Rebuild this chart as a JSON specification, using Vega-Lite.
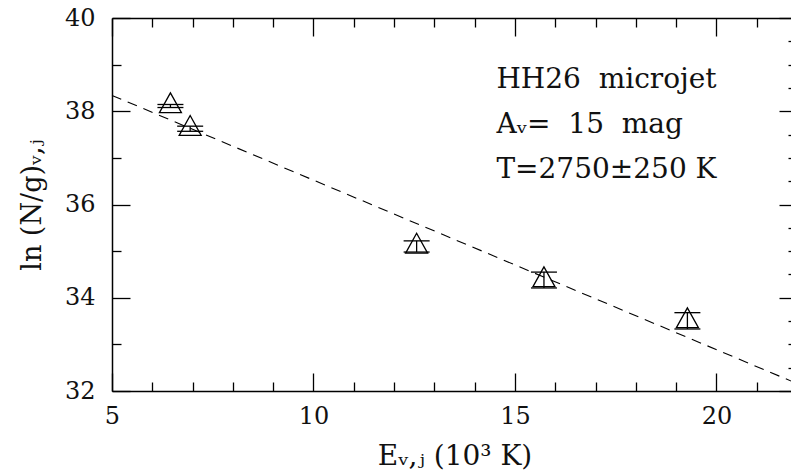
{
  "$schema": "https://vega.github.io/schema/vega-lite/v6.json",
  "width": 685,
  "height": 373,
  "autosize": {"type": "none"},
  "padding": {"left": 112, "top": 18, "right": 0, "bottom": 82},
  "background": "white",
  "config": {
    "view": {"stroke": null},
    "font": "DejaVu Serif",
    "axis": {
      "grid": false,
      "domainColor": "black",
      "domainWidth": 1.5,
      "tickColor": "black",
      "tickWidth": 1.3,
      "tickSize": -18,
      "labelColor": "#111",
      "labelFont": "DejaVu Serif",
      "labelFontSize": 24,
      "labelOverlap": false,
      "labelFlush": false,
      "labelBound": false,
      "titleColor": "#111",
      "titleFont": "DejaVu Serif",
      "titleFontSize": 28,
      "titleFontWeight": "normal"
    }
  },
  "datasets": {
    "points": [
      {"E": 6.45, "lnNg": 38.11, "lo": 38.08, "hi": 38.145},
      {"E": 6.94, "lnNg": 37.625, "lo": 37.57, "hi": 37.68},
      {"E": 12.56, "lnNg": 35.10, "lo": 34.98, "hi": 35.22},
      {"E": 15.72, "lnNg": 34.38, "lo": 34.21, "hi": 34.55},
      {"E": 19.28, "lnNg": 33.50, "lo": 33.33, "hi": 33.68}
    ],
    "fit": [
      {"E": 5, "lnNg": 38.34},
      {"E": 22, "lnNg": 32.16}
    ],
    "notes": [
      {"E": 14.54, "lnNg": 38.50, "label": "HH26\u00a0\u00a0microjet"},
      {"E": 14.54, "lnNg": 37.54, "label": "Aᵥ=\u00a0\u00a015\u00a0\u00a0mag"},
      {"E": 14.54, "lnNg": 36.57, "label": "T=2750±250 K"}
    ]
  },
  "resolve": {"axis": {"x": "independent", "y": "independent"}},
  "layer": [
    {
      "data": {"name": "fit"},
      "mark": {"type": "line", "color": "black", "strokeWidth": 1.1, "strokeDash": [10, 7]},
      "encoding": {
        "x": {
          "field": "E", "type": "quantitative",
          "scale": {"domain": [5, 22], "nice": false, "zero": false},
          "axis": {
            "orient": "bottom",
            "values": [5,6,7,8,9,10,11,12,13,14,15,16,17,18,19,20,21,22],
            "format": "d",
            "tickDash": {"condition": {"test": "datum.value % 5 === 0", "value": [20, 2]}, "value": [9, 30]},
            "labelExpr": "datum.value % 5 === 0 ? datum.label : ''",
            "labelPadding": 31,
            "title": "Eᵥ,ⱼ (10³ K)",
            "titlePadding": 14
          }
        },
        "y": {
          "field": "lnNg", "type": "quantitative",
          "scale": {"domain": [32, 40], "nice": false, "zero": false},
          "axis": {
            "orient": "left",
            "values": [32,32.5,33,33.5,34,34.5,35,35.5,36,36.5,37,37.5,38,38.5,39,39.5,40],
            "format": "d",
            "tickDash": {"condition": {"test": "datum.value % 2 === 0", "value": [20, 2]}, "value": [9, 30]},
            "labelExpr": "datum.value % 2 === 0 ? datum.label : ''",
            "labelPadding": 35,
            "title": "ln (N/g)ᵥ,ⱼ",
            "titleFontSize": 27,
            "titlePadding": 18
          }
        }
      }
    },
    {
      "data": {"name": "points"},
      "mark": {"type": "rule", "color": "black", "strokeWidth": 1.3},
      "encoding": {
        "x": {"field": "E", "type": "quantitative", "axis": null},
        "y": {"field": "lo", "type": "quantitative", "axis": null},
        "y2": {"field": "hi"}
      }
    },
    {
      "data": {"name": "points"},
      "mark": {"type": "tick", "orient": "horizontal", "size": 26, "thickness": 1.3, "color": "black", "opacity": 1},
      "encoding": {
        "x": {"field": "E", "type": "quantitative", "axis": null},
        "y": {"field": "lo", "type": "quantitative", "axis": null}
      }
    },
    {
      "data": {"name": "points"},
      "mark": {"type": "tick", "orient": "horizontal", "size": 26, "thickness": 1.3, "color": "black", "opacity": 1},
      "encoding": {
        "x": {"field": "E", "type": "quantitative", "axis": null},
        "y": {"field": "hi", "type": "quantitative", "axis": null}
      }
    },
    {
      "data": {"name": "points"},
      "mark": {"type": "point", "shape": "M0,-1.2L-1,0.6L1,0.6Z", "filled": false, "size": 484, "stroke": "black", "strokeWidth": 1.3, "opacity": 1},
      "encoding": {
        "x": {
          "field": "E", "type": "quantitative",
          "axis": {
            "orient": "top",
            "values": [5,6,7,8,9,10,11,12,13,14,15,16,17,18,19,20,21,22],
            "tickDash": {"condition": {"test": "datum.value % 5 === 0", "value": [20, 2]}, "value": [9, 30]},
            "labels": false,
            "title": null
          }
        },
        "y": {
          "field": "lnNg", "type": "quantitative",
          "axis": {
            "orient": "right",
            "values": [32,32.5,33,33.5,34,34.5,35,35.5,36,36.5,37,37.5,38,38.5,39,39.5,40],
            "tickDash": {"condition": {"test": "datum.value % 2 === 0", "value": [20, 2]}, "value": [9, 30]},
            "labels": false,
            "title": null
          }
        }
      }
    },
    {
      "data": {"name": "notes"},
      "mark": {"type": "text", "align": "left", "baseline": "alphabetic", "fontSize": 28, "font": "DejaVu Serif", "color": "#111"},
      "encoding": {
        "x": {"field": "E", "type": "quantitative", "axis": null},
        "y": {"field": "lnNg", "type": "quantitative", "axis": null},
        "text": {"field": "label"}
      }
    }
  ]
}
